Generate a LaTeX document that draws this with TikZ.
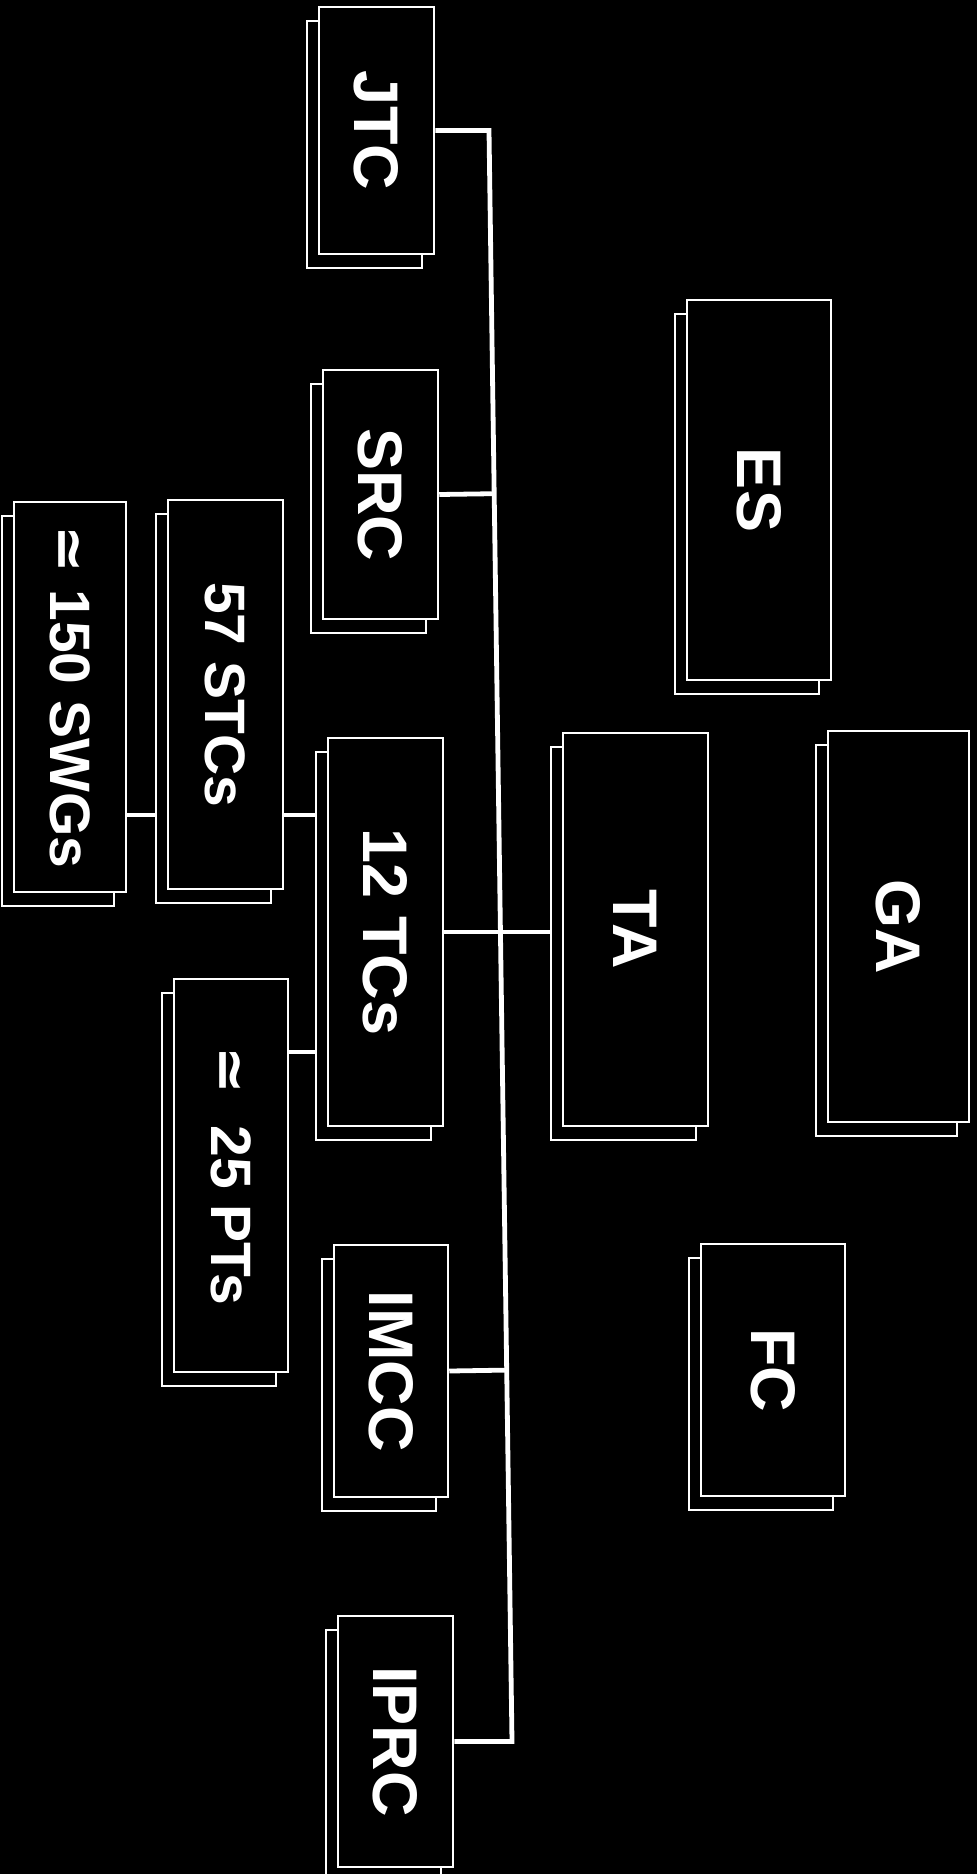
\documentclass[tikz,border=0pt]{standalone}
\usepackage{fontspec}
\usepackage{graphicx}
\setmainfont{Liberation Sans}
\newfontfamily\symfont{DejaVu Sans}
\usetikzlibrary{shadows,backgrounds,calc}
\tikzset{
  box/.style={draw=white, fill=black, line width=1.25pt, rectangle, inner sep=0pt,
    general shadow={draw=white, fill=black, line width=1.25pt, shadow xshift=-6pt, shadow yshift=-7pt}},
  conn/.style={draw=white, line width=2.4pt, line join=miter},
}
\begin{document}
\begin{tikzpicture}[x=0.5pt,y=-0.5pt]
\useasboundingbox (0,0) rectangle (976,1874);
\begin{pgfonlayer}{background}
\fill[black] (-10,-10) rectangle (986,1884);
\end{pgfonlayer}

\node[box, minimum width=57.5pt, minimum height=123.5pt] (JTC) at (376.5,130.5) {\rotatebox{-90}{\fontsize{31.5}{36}\selectfont\bfseries\color{white}JTC}};
\node[box, minimum width=57.5pt, minimum height=124.5pt] (SRC) at (380.5,494.5) {\rotatebox{-90}{\fontsize{31.5}{36}\selectfont\bfseries\color{white}SRC}};
\node[box, minimum width=72pt, minimum height=190pt] (ES) at (759,490) {\rotatebox{-90}{\fontsize{31.5}{36}\selectfont\bfseries\color{white}ES}};
\node[box, minimum width=56pt, minimum height=195pt] (SWGs) at (70,697) {\rotatebox{-90}{\fontsize{28.5}{33}\selectfont\bfseries\color{white}{\symfont ≃} 150 SWGs}};
\node[box, minimum width=57.5pt, minimum height=194.5pt] (STCs) at (225.5,694.5) {\rotatebox{-90}{\fontsize{28.5}{33}\selectfont\bfseries\color{white}57 STCs}};
\node[box, minimum width=57.5pt, minimum height=194pt] (TCs) at (385.5,932) {\rotatebox{-90}{\fontsize{31.5}{36}\selectfont\bfseries\color{white}12 TCs}};
\node[box, minimum width=72.5pt, minimum height=196.5pt] (TA) at (635.5,929.5) {\rotatebox{-90}{\fontsize{31.5}{36}\selectfont\bfseries\color{white}TA}};
\node[box, minimum width=70.5pt, minimum height=195.5pt] (GA) at (898.5,926.5) {\rotatebox{-90}{\fontsize{31.5}{36}\selectfont\bfseries\color{white}GA}};
\node[box, minimum width=57pt, minimum height=196.5pt] (PTs) at (231,1175.5) {\rotatebox{-90}{\fontsize{28.5}{33}\selectfont\bfseries\color{white}{\symfont ≃}\ \ 25 PTs}};
\node[box, minimum width=57pt, minimum height=126pt] (IMCC) at (391,1371) {\rotatebox{-90}{\fontsize{31.5}{36}\selectfont\bfseries\color{white}IMCC}};
\node[box, minimum width=72pt, minimum height=126pt] (FC) at (773,1370) {\rotatebox{-90}{\fontsize{31.5}{36}\selectfont\bfseries\color{white}FC}};
\node[box, minimum width=57.5pt, minimum height=125.5pt] (IPRC) at (395.5,1741.5) {\rotatebox{-90}{\fontsize{31.5}{36}\selectfont\bfseries\color{white}IPRC}};

\coordinate (t1) at (489,130.5);
\coordinate (t2) at (512,1741.5);
\coordinate (h1) at (0,815);
\coordinate (h2) at (0,1052);
\begin{pgfonlayer}{background}
\draw[conn] (JTC.east) -- (t1) -- (t2) -- (IPRC.east);
\draw[conn] (SRC.east) -- ($(t1)!(SRC.east)!(t2)$);
\draw[conn] (IMCC.east) -- ($(t1)!(IMCC.east)!(t2)$);
\draw[conn] (TCs.east) -- (TA.west |- TCs.east);
\draw[conn] (SWGs.east |- h1) -- (STCs.west |- h1);
\draw[conn] (STCs.east |- h1) -- (TCs.west |- h1);
\draw[conn] (PTs.east |- h2) -- (TCs.west |- h2);
\end{pgfonlayer}
\end{tikzpicture}
\end{document}
